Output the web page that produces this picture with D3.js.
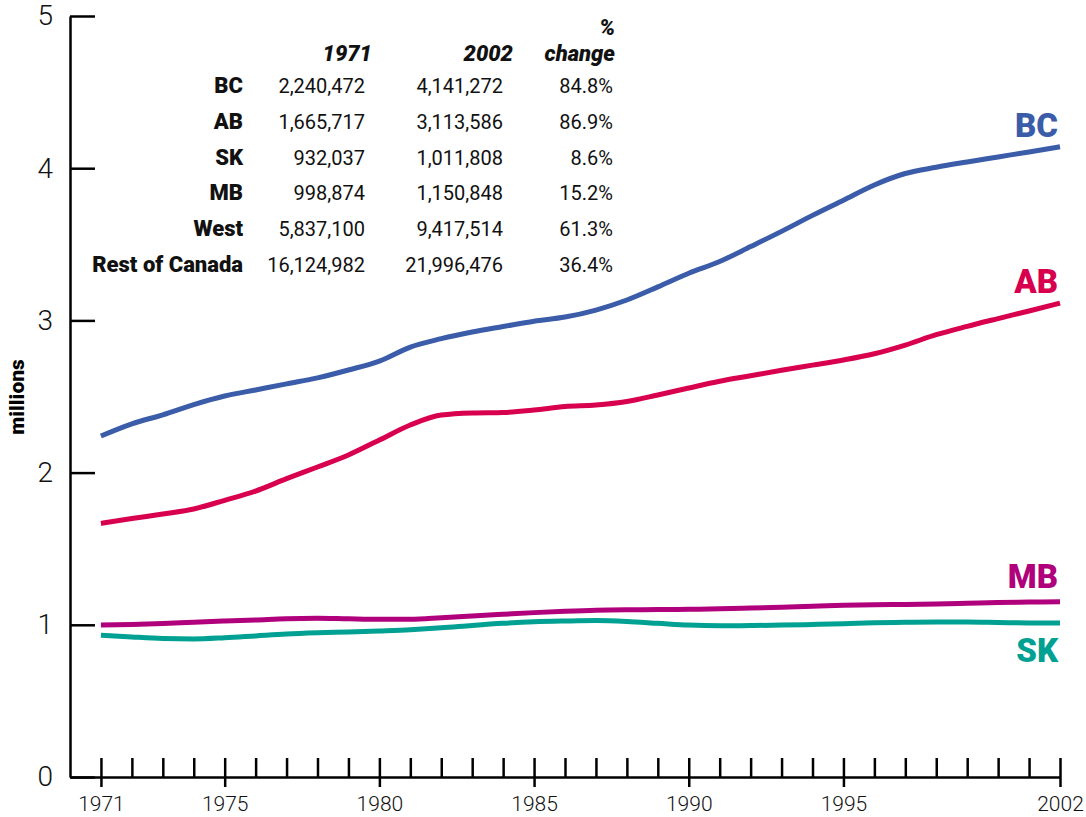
<!DOCTYPE html>
<html>
<head>
<meta charset="utf-8">
<script src="https://cdn.jsdelivr.net/npm/d3@7"></script>
<style>
  body { margin: 0; background: #fff; }
  text { font-family: Roboto, "Noto Sans", sans-serif; }
</style>
</head>
<body>
<div id="chart"></div>
<script>
// ==============================
// Data: population, millions
// ==============================
var years = d3.range(1971, 2003);

var bcValues = [2.240, 2.320, 2.380, 2.447, 2.503, 2.543, 2.583, 2.622, 2.674, 2.733,
                2.825, 2.880, 2.924, 2.960, 2.995, 3.022, 3.068, 3.134, 3.220, 3.310,
                3.387, 3.485, 3.585, 3.690, 3.790, 3.890, 3.965, 4.006, 4.041, 4.074,
                4.107, 4.141];
var abValues = [1.666, 1.698, 1.728, 1.761, 1.818, 1.879, 1.960, 2.037, 2.116, 2.214,
                2.313, 2.378, 2.392, 2.395, 2.411, 2.434, 2.444, 2.467, 2.510, 2.556,
                2.600, 2.636, 2.672, 2.706, 2.740, 2.781, 2.838, 2.906, 2.961, 3.012,
                3.062, 3.114];
var mbValues = [0.999, 1.002, 1.008, 1.017, 1.025, 1.032, 1.040, 1.043, 1.039, 1.036,
                1.036, 1.046, 1.058, 1.069, 1.080, 1.089, 1.096, 1.099, 1.100, 1.102,
                1.105, 1.110, 1.116, 1.122, 1.128, 1.132, 1.134, 1.136, 1.141, 1.146,
                1.149, 1.151];
var skValues = [0.932, 0.920, 0.910, 0.907, 0.915, 0.927, 0.939, 0.947, 0.953, 0.960,
                0.968, 0.980, 0.996, 1.010, 1.020, 1.025, 1.028, 1.022, 1.010, 0.998,
                0.994, 0.995, 0.998, 1.002, 1.007, 1.013, 1.016, 1.018, 1.018, 1.015,
                1.012, 1.012];

var seriesNames = ["BC", "AB", "MB", "SK"];
var seriesColors = ["#3a5ca9", "#d8004e", "#b0007b", "#00a092"];

// summary table
var tableRows = ["BC", "AB", "SK", "MB", "West", "Rest of Canada"];
var pop1971 = ["2,240,472", "1,665,717", "932,037", "998,874", "5,837,100", "16,124,982"];
var pop2002 = ["4,141,272", "3,113,586", "1,011,808", "1,150,848", "9,417,514", "21,996,476"];
var pctChange = ["84.8%", "86.9%", "8.6%", "15.2%", "61.3%", "36.4%"];

var yTicks = [0, 1, 2, 3, 4, 5];
var xMajorTicks = [1971, 1975, 1980, 1985, 1990, 1995, 2002];

// ==============================
// Chart setup
// ==============================
var svgWidth = 1086, svgHeight = 817;

var svg = d3.select("#chart")
    .append("svg")
    .attr("width", svgWidth)
    .attr("height", svgHeight);

// 1970 sits on the y axis so the baseline starts there
var xScale = d3.scaleLinear().domain([1970, 2002]).range([70, 1060]);
var yScale = d3.scaleLinear().domain([0, 5]).range([777, 16]);

// Y axis - ticks point into the plot
var yAxis = svg.append("g")
    .attr("transform", "translate(70,0)")
    .call(d3.axisLeft(yScale).tickValues(yTicks).tickFormat(d3.format("d"))
        .tickSizeInner(-25).tickSizeOuter(0).tickPadding(17));
yAxis.select(".domain").attr("stroke", "#000").attr("stroke-width", 2.5);
yAxis.selectAll(".tick line").attr("stroke", "#000").attr("stroke-width", 2.5);
yAxis.selectAll(".tick text")
    .attr("font-family", "Roboto")
    .attr("font-size", 28)
    .attr("font-weight", 300)
    .attr("fill", "#111");

// X axis - minor ticks upward for every year
var xMinor = svg.append("g")
    .attr("transform", "translate(0,777)")
    .call(d3.axisBottom(xScale).tickValues(years).tickFormat("")
        .tickSizeInner(-19).tickSizeOuter(0));
xMinor.select(".domain").attr("stroke", "#000").attr("stroke-width", 2.5);
xMinor.selectAll(".tick line").attr("stroke", "#000").attr("stroke-width", 2.5);

// X axis - labelled years also tick downward
var xMajor = svg.append("g")
    .attr("transform", "translate(0,777)")
    .call(d3.axisBottom(xScale).tickValues(xMajorTicks).tickFormat(d3.format("d"))
        .tickSizeInner(10).tickSizeOuter(0).tickPadding(9));
xMajor.select(".domain").remove();
xMajor.selectAll(".tick line").attr("stroke", "#000").attr("stroke-width", 2.5);
xMajor.selectAll(".tick text")
    .attr("font-family", "Roboto")
    .attr("font-size", 21)
    .attr("font-weight", 300)
    .attr("fill", "#111");

// Y axis title
svg.append("text")
    .attr("transform", "translate(24,397) rotate(-90)")
    .attr("text-anchor", "middle")
    .attr("font-size", 21)
    .attr("font-weight", 900)
    .text("millions");

// ==============================
// Lines
// ==============================
var seriesValues = [bcValues, abValues, mbValues, skValues];

var line = d3.line()
    .x(d => xScale(d.year))
    .y(d => yScale(d.value))
    .curve(d3.curveMonotoneX);

seriesValues.forEach(function(vals, i) {
    var pts = years.map((yr, j) => ({ year: yr, value: vals[j] }));
    svg.append("path")
        .datum(pts)
        .attr("fill", "none")
        .attr("stroke", seriesColors[i])
        .attr("stroke-width", 5)
        .attr("d", line);
});

// Series labels on the right
var labelBaselines = [137, 293, 588, 662];
seriesNames.forEach(function(name, i) {
    svg.append("text")
        .attr("x", 1058)
        .attr("y", labelBaselines[i])
        .attr("text-anchor", "end")
        .attr("font-size", 33)
        .attr("font-weight", 900)
        .attr("fill", seriesColors[i])
        .text(name);
});

// ==============================
// Summary table
// ==============================
var table = svg.append("g").attr("fill", "#111");

function header(x, y, txt) {
    table.append("text")
        .attr("x", x).attr("y", y)
        .attr("text-anchor", "end")
        .attr("font-size", 22)
        .attr("font-weight", 900)
        .attr("font-style", "italic")
        .text(txt);
}
header(372, 61, "1971");
header(513, 61, "2002");
header(615, 35, "%");
header(615, 61, "change");

tableRows.forEach(function(row, i) {
    var yPos = 93 + i * 35.8;
    table.append("text")
        .attr("x", 243).attr("y", yPos)
        .attr("text-anchor", "end")
        .attr("font-size", 22)
        .attr("font-weight", 900)
        .text(row);
    [[365, pop1971[i]], [503, pop2002[i]], [613, pctChange[i]]].forEach(function(c) {
        table.append("text")
            .attr("x", c[0]).attr("y", yPos)
            .attr("text-anchor", "end")
            .attr("font-size", 20)
            .text(c[1]);
    });
});
</script>
</body>
</html>
